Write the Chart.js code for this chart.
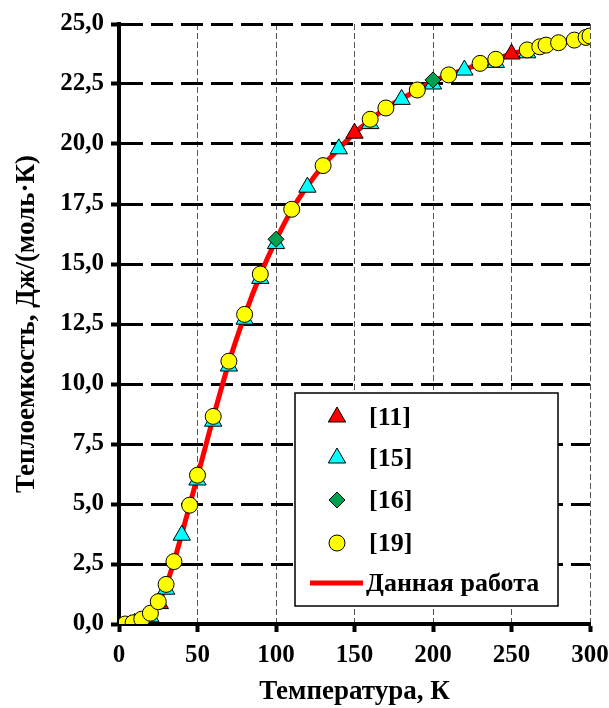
<!DOCTYPE html>
<html>
<head>
<meta charset="utf-8">
<script src="https://cdn.jsdelivr.net/npm/chart.js@4/dist/chart.umd.min.js"></script>
<style>
  body { margin: 0; background: #fff; }
</style>
</head>
<body>
<canvas id="chart-1" width="609" height="708"></canvas>
<script>
// [11]
const t11 = [15, 26, 150, 250];
const c11 = [0.08, 0.85, 20.45, 23.75];
// [15]
const t15 = [10, 20, 30, 40, 50, 60, 70, 80, 90, 100, 120, 140, 160, 180, 200, 220, 240, 260, 298];
const c15 = [0.03, 0.3, 1.45, 3.7, 6.0, 8.45, 10.75, 12.7, 14.4, 15.85, 18.2, 19.8, 20.85, 21.86, 22.5, 23.08, 23.4, 23.8, 24.4];
// [16]
const t16 = [100, 200];
const c16 = [16.03, 22.67];
// [19]
const t19 = [4, 9, 14.5, 20, 25, 30, 35, 45, 50, 60, 70, 80, 90, 110, 130, 160, 170, 190, 210, 230, 240, 260, 268, 272, 280, 290, 297.5, 300];
const c19 = [0.0, 0.05, 0.2, 0.45, 0.93, 1.65, 2.6, 4.95, 6.2, 8.65, 10.95, 12.9, 14.58, 17.28, 19.1, 21.03, 21.5, 22.25, 22.88, 23.36, 23.53, 23.92, 24.05, 24.12, 24.22, 24.33, 24.44, 24.5];
// Данная работа
const tFit = [0, 5, 10, 15, 20, 25, 30, 35, 40, 45, 50, 60, 70, 80, 90, 100, 110, 120, 130, 140, 150, 160, 170, 180, 190, 200, 210, 220, 230, 240, 250, 260, 270, 280, 290, 300];
const cFit = [0, 0.02, 0.06, 0.18, 0.42, 0.88, 1.6, 2.6, 3.75, 4.95, 6.15, 8.6, 10.9, 12.85, 14.55, 16.0, 17.25, 18.25, 19.1, 19.8, 20.45, 21.0, 21.5, 21.88, 22.25, 22.6, 22.88, 23.1, 23.35, 23.55, 23.75, 23.92, 24.07, 24.22, 24.35, 24.5];

const yTickLabels = ["0,0", "2,5", "5,0", "7,5", "10,0", "12,5", "15,0", "17,5", "20,0", "22,5", "25,0"];
const xTickLabels = ["0", "50", "100", "150", "200", "250", "300"];

const FONT = "'Liberation Serif', 'Times New Roman', serif";

function pts(xs, ys) {
  return xs.map((x, i) => ({ x: x, y: ys[i] }));
}

// legend drawn inside the plot, in a white box
const boxLegend = {
  id: "boxLegend",
  afterDatasetsDraw(chart) {
    const ctx = chart.ctx;
    const x0 = 295, y0 = 393, w = 263, h = 213;
    ctx.save();
    ctx.fillStyle = "#fff";
    ctx.fillRect(x0, y0, w, h);
    ctx.lineWidth = 1.5;
    ctx.strokeStyle = "#000";
    ctx.strokeRect(x0, y0, w, h);
    const rows = [417, 458, 500, 543, 583];
    const ds = chart.data.datasets;
    ctx.font = "bold 26px " + FONT;
    ctx.textBaseline = "middle";
    ds.forEach((d, i) => {
      const y = rows[i];
      if (d.showLine) {
        ctx.strokeStyle = d.borderColor;
        ctx.lineWidth = 5;
        ctx.beginPath();
        ctx.moveTo(310, y);
        ctx.lineTo(363, y);
        ctx.stroke();
        ctx.fillStyle = "#000";
        ctx.fillText(d.label, 366, y + 1);
      } else {
        ctx.fillStyle = d.backgroundColor;
        ctx.strokeStyle = d.borderColor;
        ctx.lineWidth = 1;
        Chart.helpers.drawPoint(ctx, { pointStyle: d.pointStyle, radius: d.pointRadius, rotation: 0, borderWidth: 1 }, 337, y);
        ctx.fillStyle = "#000";
        ctx.fillText(d.label, 369, y + 1);
      }
    });
    ctx.restore();
  }
};

const ctx1 = document.getElementById("chart-1").getContext("2d");
const myChart1 = new Chart(ctx1, {
  type: "scatter",
  data: {
    datasets: [
      {
        label: "[11]",
        data: pts(t11, c11),
        pointStyle: "triangle",
        pointRadius: 10,
        backgroundColor: "#ff0000",
        borderColor: "#000",
        borderWidth: 1,
        order: 2
      },
      {
        label: "[15]",
        data: pts(t15, c15),
        pointStyle: "triangle",
        pointRadius: 10,
        backgroundColor: "#00ffff",
        borderColor: "#000",
        borderWidth: 1,
        order: 3
      },
      {
        label: "[16]",
        data: pts(t16, c16),
        pointStyle: "rectRot",
        pointRadius: 8,
        backgroundColor: "#00a050",
        borderColor: "#000",
        borderWidth: 1,
        order: 0
      },
      {
        label: "[19]",
        data: pts(t19, c19),
        pointStyle: "circle",
        pointRadius: 8,
        backgroundColor: "#ffff00",
        borderColor: "#000",
        borderWidth: 1,
        order: 1
      },
      {
        label: "Данная работа",
        data: pts(tFit, cFit),
        showLine: true,
        pointRadius: 0,
        borderColor: "#ff0000",
        backgroundColor: "#ff0000",
        borderWidth: 5,
        cubicInterpolationMode: "monotone",
        order: 4
      }
    ]
  },
  options: {
    responsive: false,
    animation: false,
    layout: { padding: { left: 11, top: 24, right: 19, bottom: 0 } },
    plugins: {
      legend: { display: false },
      tooltip: { enabled: false }
    },
    scales: {
      x: {
        type: "linear",
        min: 0,
        max: 300,
        afterFit: function(scale) {
          scale.height = 84;
          scale.paddingRight = 0;
          scale.paddingLeft = 0;
        },
        afterBuildTicks: function(scale) {
          scale.ticks = xTickLabels.map(s => ({ value: Number(s) }));
        },
        ticks: {
          stepSize: 50,
          color: "#000",
          padding: 9,
          maxRotation: 0,
          font: { family: FONT, size: 25, weight: "bold" },
          callback: function(value, i) { return xTickLabels[i]; }
        },
        grid: {
          color: "#555",
          lineWidth: 1,
          tickColor: "#000",
          tickWidth: 4,
          tickLength: 8,
          tickBorderDash: []
        },
        border: { display: true, color: "#000", width: 4, dash: [6, 3] },
        title: {
          display: true,
          text: "Температура, К",
          color: "#000",
          padding: { top: 0, bottom: 0 },
          font: { family: FONT, size: 27, weight: "bold" }
        }
      },
      y: {
        type: "linear",
        min: 0,
        max: 25,
        afterFit: function(scale) { scale.width = 108; },
        afterBuildTicks: function(scale) {
          scale.ticks = yTickLabels.map(s => ({ value: Number(s.replace(",", ".")) }));
        },
        ticks: {
          stepSize: 2.5,
          color: "#000",
          padding: 7,
          font: { family: FONT, size: 25, weight: "bold" },
          callback: function(value, i) { return yTickLabels[i]; }
        },
        grid: {
          color: "#000",
          lineWidth: 3,
          tickColor: "#000",
          tickWidth: 4,
          tickLength: 8,
          tickBorderDash: []
        },
        border: { display: true, color: "#000", width: 4, dash: [22, 8] },
        title: {
          display: true,
          text: "Теплоемкость, Дж/(моль·К)",
          color: "#000",
          padding: { top: 0, bottom: 0 },
          font: { family: FONT, size: 27, weight: "bold" }
        }
      }
    }
  },
  plugins: [boxLegend]
});
</script>
</body>
</html>
